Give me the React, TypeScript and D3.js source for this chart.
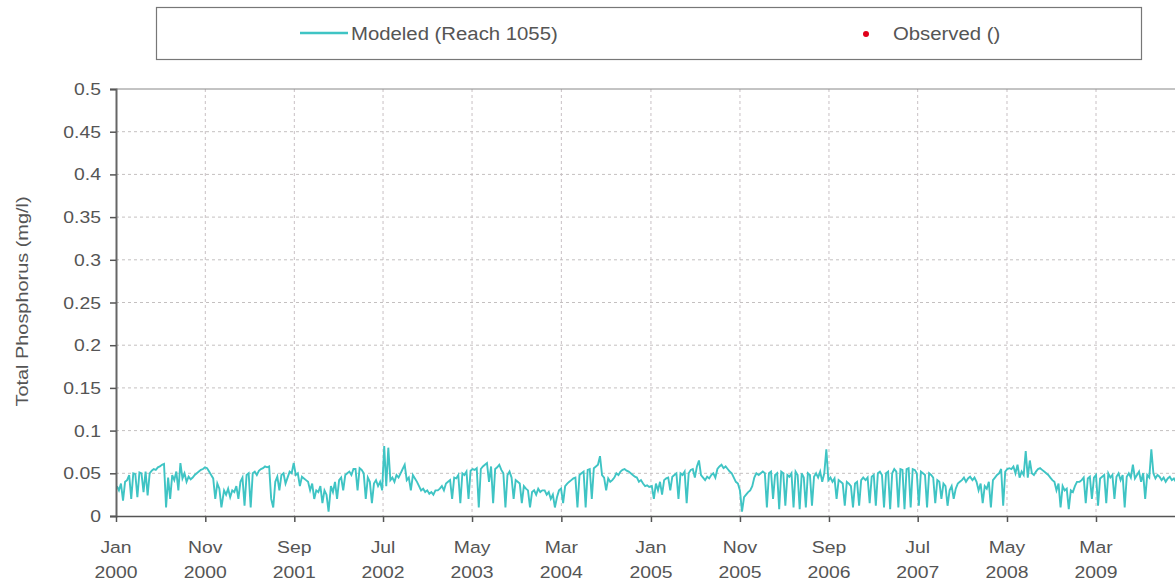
import React, { useEffect, useRef } from 'react';
import * as d3 from 'd3';

// weekly total phosphorus, in thousandths of mg/l
const tp2000 = [35, 30, 38, 18, 40, 42, 48, 20, 50, 49, 22, 51, 50, 28, 52, 24, 50, 53, 55, 54, 57, 58, 60, 61, 10, 45, 20, 48, 42, 52, 30, 62, 44, 50, 40, 46, 43, 45, 48, 50, 52, 54, 55, 57, 56, 52, 48, 44, 20, 38, 32, 10];
const tp2001 = [30, 25, 32, 22, 30, 28, 35, 20, 40, 45, 12, 48, 50, 10, 50, 52, 48, 53, 55, 56, 58, 57, 58, 20, 10, 40, 46, 30, 48, 50, 38, 45, 52, 50, 62, 48, 50, 35, 46, 44, 42, 40, 30, 38, 20, 30, 28, 35, 15, 30, 25, 5];
const tp2002 = [35, 28, 40, 20, 42, 45, 30, 48, 50, 52, 48, 55, 55, 30, 56, 54, 50, 20, 45, 40, 15, 38, 42, 35, 40, 30, 82, 35, 80, 42, 45, 40, 48, 45, 50, 55, 60, 42, 45, 30, 48, 44, 40, 35, 30, 32, 28, 30, 26, 28, 25, 30];
const tp2003 = [30, 32, 35, 30, 38, 40, 42, 20, 45, 44, 48, 15, 50, 48, 52, 20, 53, 55, 54, 56, 10, 55, 58, 60, 62, 40, 58, 15, 55, 57, 60, 54, 50, 10, 48, 52, 45, 20, 42, 40, 38, 15, 35, 32, 30, 10, 28, 30, 25, 32, 28, 30];
const tp2004 = [30, 25, 28, 20, 25, 10, 22, 30, 32, 15, 35, 38, 40, 42, 44, 45, 10, 48, 50, 52, 10, 54, 55, 20, 56, 58, 60, 70, 48, 45, 30, 44, 40, 42, 45, 50, 48, 52, 54, 55, 53, 52, 50, 48, 46, 45, 40, 42, 38, 35, 36, 34];
const tp2005 = [35, 20, 38, 30, 40, 25, 42, 44, 45, 30, 46, 48, 50, 20, 50, 48, 52, 15, 50, 54, 55, 45, 58, 65, 48, 45, 42, 46, 44, 48, 50, 45, 55, 58, 60, 56, 58, 55, 52, 50, 45, 40, 38, 30, 5, 22, 25, 28, 30, 35, 45, 50];
const tp2006 = [48, 50, 52, 50, 10, 50, 52, 20, 48, 50, 8, 52, 50, 12, 48, 46, 50, 10, 52, 48, 8, 50, 45, 10, 50, 48, 12, 46, 50, 45, 52, 40, 50, 78, 42, 45, 40, 44, 20, 42, 40, 38, 12, 40, 38, 35, 10, 38, 40, 12, 42, 45];
const tp2007 = [42, 45, 15, 46, 48, 12, 50, 52, 48, 10, 50, 52, 8, 50, 55, 52, 10, 55, 54, 8, 55, 56, 10, 55, 54, 50, 12, 52, 50, 48, 10, 50, 48, 45, 15, 42, 40, 20, 38, 35, 12, 30, 35, 20, 32, 38, 40, 42, 45, 40, 44, 46];
const tp2008 = [42, 45, 40, 30, 38, 15, 35, 32, 40, 10, 42, 45, 48, 50, 55, 12, 52, 55, 56, 55, 58, 50, 60, 45, 52, 48, 76, 45, 65, 50, 48, 52, 55, 56, 54, 52, 50, 48, 45, 42, 40, 30, 38, 10, 35, 30, 32, 8, 30, 28, 35, 40];
const tp2009 = [40, 42, 45, 15, 44, 46, 20, 45, 48, 12, 44, 46, 48, 15, 50, 45, 48, 20, 46, 50, 42, 48, 10, 46, 50, 45, 60, 44, 48, 52, 40, 50, 20, 48, 45, 78, 50, 44, 48, 46, 42, 45, 40, 44, 46, 42, 44, 40, 42, 38, 40, 42];

const years = [2000, 2001, 2002, 2003, 2004, 2005, 2006, 2007, 2008, 2009];
const yearly = [tp2000, tp2001, tp2002, tp2003, tp2004, tp2005, tp2006, tp2007, tp2008, tp2009];

const yTicks = [0, 0.05, 0.1, 0.15, 0.2, 0.25, 0.3, 0.35, 0.4, 0.45, 0.5];
const monthNames = ['Jan', 'Feb', 'Mar', 'Apr', 'May', 'Jun', 'Jul', 'Aug', 'Sep', 'Oct', 'Nov', 'Dec'];

const modeledLabel = 'Modeled (Reach 1055)';
const observedLabel = 'Observed ()';
const yTitle = 'Total Phosphorus (mg/l)';

const W = 1175;
const H = 587;
const teal = '#3fc4c4';
const textColor = '#555';
const font = '"Liberation Sans", Arial, sans-serif';

// the original's text is a bit wider than Arial, so stretch it along the baseline
const label = (parent, x, y, str, size, anchor, rotate = 0, sx = 1.14) => {
  parent.append('g')
    .attr('transform', 'translate(' + x + ',' + y + ') rotate(' + rotate + ') scale(' + sx + ',1)')
    .append('text')
    .attr('text-anchor', anchor)
    .attr('fill', textColor)
    .style('font-family', font)
    .style('font-size', size + 'px')
    .text(str);
};

const App = () => {
  const ref = useRef(null);

  useEffect(() => {
    const svg = d3.select(ref.current);
    svg.selectAll('*').remove();

    let left = 116, top = 89, bottom = 516, right = W;

    let data = [];
    years.forEach((yr, k) => {
      yearly[k].forEach((v, i) => {
        data.push({ date: d3.timeDay.offset(new Date(yr, 0, 1), i * 7 + 3), value: v / 1000 });
      });
    });

    // Jan 2000 sits at x=116, Mar 2009 at x=1096; the plot runs on past the page edge
    let anchor = d3.scaleTime()
      .domain([new Date(2000, 0, 1), new Date(2009, 2, 1)])
      .range([left, 1096]);
    let xScale = d3.scaleTime()
      .domain([new Date(2000, 0, 1), anchor.invert(right)])
      .range([left, right]);
    let yScale = d3.scaleLinear().domain([0, 0.5]).range([bottom, top]);

    let xTicks = d3.range(12).map((i) => d3.timeMonth.offset(new Date(2000, 0, 1), i * 10));

    svg.append('defs').append('clipPath').attr('id', 'plotclip')
      .append('rect')
      .attr('x', left).attr('y', top - 2)
      .attr('width', right - left).attr('height', bottom - top + 4);

    // grid
    let grid = svg.append('g');
    grid.selectAll('line.h')
      .data(yTicks.slice(1, -1))
      .enter().append('line')
      .attr('x1', left).attr('x2', right)
      .attr('y1', (d) => yScale(d)).attr('y2', (d) => yScale(d))
      .attr('stroke', '#c4c0c0')
      .attr('stroke-dasharray', '3,3');
    grid.selectAll('line.v')
      .data(xTicks.slice(1))
      .enter().append('line')
      .attr('x1', (d) => xScale(d)).attr('x2', (d) => xScale(d))
      .attr('y1', top).attr('y2', bottom)
      .attr('stroke', '#c8c0c4')
      .attr('stroke-dasharray', '3,3');

    // top border
    svg.append('line')
      .attr('x1', left).attr('x2', right)
      .attr('y1', top).attr('y2', top)
      .attr('stroke', '#888').attr('stroke-width', 1);

    // series
    let line = d3.line()
      .x((d) => xScale(d.date))
      .y((d) => yScale(d.value));
    svg.append('path')
      .datum(data)
      .attr('clip-path', 'url(#plotclip)')
      .attr('d', line)
      .attr('fill', 'none')
      .attr('stroke', teal)
      .attr('stroke-width', 1.9);

    // axes
    let yAxis = d3.axisLeft(yScale).tickValues(yTicks).tickSize(6).tickFormat(() => '');
    let gy = svg.append('g').attr('transform', 'translate(' + left + ',0)').call(yAxis);
    gy.select('.domain').attr('stroke', '#666').attr('stroke-width', 2);
    gy.selectAll('.tick line').attr('stroke', '#555').attr('stroke-width', 1.5);
    gy.selectAll('.tick text').remove();

    let xAxis = d3.axisBottom(xScale).tickValues(xTicks).tickSize(6).tickSizeOuter(0).tickFormat(() => '');
    let gx = svg.append('g').attr('transform', 'translate(0,' + bottom + ')').call(xAxis);
    gx.select('.domain').attr('stroke', '#555').attr('stroke-width', 1.5);
    gx.selectAll('.tick line').attr('stroke', '#555').attr('stroke-width', 1.5);
    gx.selectAll('.tick text').remove();

    let lbl = svg.append('g');
    yTicks.forEach((d) => {
      label(lbl, 101, yScale(d) + 6, String(d), 17, 'end');
    });
    xTicks.forEach((d) => {
      label(lbl, xScale(d), 553, monthNames[d.getMonth()], 17, 'middle');
      label(lbl, xScale(d), 578, String(d.getFullYear()), 17, 'middle');
    });

    label(svg, 28, (193 + 410) / 2, yTitle, 17, 'middle', -90, 1.17);

    // legend
    let lg = svg.append('g');
    lg.append('rect')
      .attr('x', 156.5).attr('y', 7.5)
      .attr('width', 985).attr('height', 52)
      .attr('fill', '#fff')
      .attr('stroke', '#777')
      .attr('stroke-width', 1.2);
    lg.append('line')
      .attr('x1', 300).attr('x2', 348)
      .attr('y1', 33).attr('y2', 33)
      .attr('stroke', teal).attr('stroke-width', 2.5);
    label(lg, 351, 40, modeledLabel, 18, 'start', 0, 1.13);
    lg.append('circle')
      .attr('cx', 866).attr('cy', 34).attr('r', 3)
      .attr('fill', '#e0001a');
    label(lg, 893, 40, observedLabel, 18, 'start', 0, 1.13);
  }, []);

  return (
    <svg
      ref={ref}
      width={W}
      height={H}
      style={{ position: 'absolute', left: 0, top: 0, background: '#fff' }}
    />
  );
};

export default App;
